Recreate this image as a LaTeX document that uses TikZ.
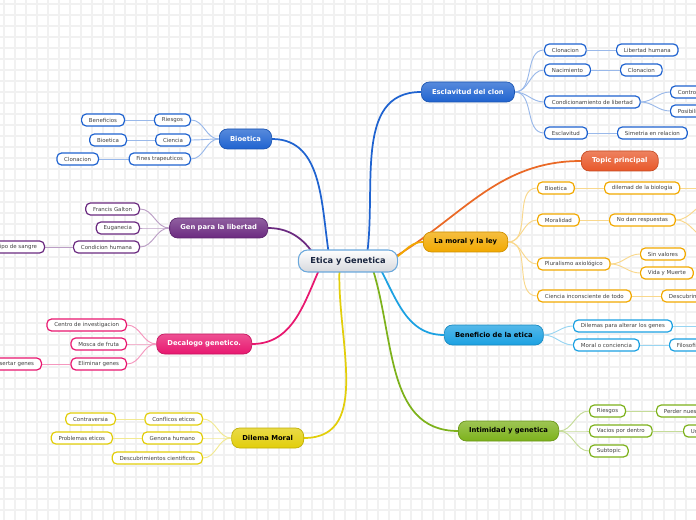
\documentclass[tikz,border=0pt]{standalone}
\usepackage{fontspec}
\setmainfont{DejaVu Sans}
\definecolor{ClonBlue}{HTML}{1F63D0}
\definecolor{TopicRed}{HTML}{E8582A}
\definecolor{LeyGold}{HTML}{F2A900}
\definecolor{EticaCyan}{HTML}{1BA1E2}
\definecolor{IntimGreen}{HTML}{7DB21B}
\definecolor{GenPurple}{HTML}{6B2A80}
\definecolor{DecaPink}{HTML}{E8176F}
\definecolor{DilemaYellow}{HTML}{E2CE0A}
\definecolor{RootEdge}{HTML}{6AA8DC}
\definecolor{RootText}{HTML}{1A2640}
\definecolor{GridGray}{HTML}{F1F1F1}
\pgfdeclarelayer{gridlayer}
\pgfdeclarelayer{linklayer}
\pgfsetlayers{gridlayer,linklayer,main}

\begin{document}
\begin{tikzpicture}[x=0.75pt,y=-0.75pt,
  rootbox/.style={draw=RootEdge,line width=0.8pt,top color=white,bottom color=RootText!18,
    rounded corners=7pt,minimum height=16.5pt,inner xsep=9pt,text=RootText,
    font=\bfseries\fontsize{6.2}{7}\selectfont},
  topicbox/.style={draw=#1!85!black,line width=0.5pt,top color=#1!75!white,bottom color=#1,
    rounded corners=6pt,minimum height=15pt,inner xsep=8pt,text=white,
    font=\bfseries\fontsize{5.1}{6}\selectfont},
  subbox/.style={draw=#1,line width=0.9pt,fill=white,rounded corners=3.5pt,
    minimum height=9pt,inner xsep=5.5pt,inner ysep=0pt,text=black!75,
    font=\fontsize{4.1}{5}\selectfont},
  limb/.style={draw=#1,line width=1.3pt},
  twig/.style={draw=#1!45!white,line width=0.7pt}]
  \useasboundingbox (0,0) rectangle (696,520);

  \begin{pgfonlayer}{gridlayer}
    \fill[white] (0,0) rectangle (696,520);
    \foreach \g in {4,15,...,700} {
      \draw[GridGray,line width=1.6pt] (\g,0) -- (\g,520);
    }
    \foreach \g in {4,15,...,520} {
      \draw[GridGray,line width=1.6pt] (0,\g) -- (696,\g);
    }
  \end{pgfonlayer}

  % central topic
  \node[rootbox] (ctr) at (348,261) {Etica y Genetica};

  % right side
  \node[topicbox=ClonBlue,anchor=west] (esc) at (421,92) {Esclavitud del clon};
  \node[subbox=ClonBlue,anchor=west] (e1) at (544,50) {Clonacion};
  \node[subbox=ClonBlue,anchor=west] (e1a) at (616,50) {Libertad humana};
  \node[subbox=ClonBlue,anchor=west] (e2) at (544,70) {Nacimiento};
  \node[subbox=ClonBlue,anchor=west] (e2a) at (620,70) {Clonacion};
  \node[subbox=ClonBlue,anchor=west] (e3) at (544,102) {Condicionamiento de libertad};
  \node[subbox=ClonBlue,anchor=west] (e3a) at (670,92) {Control};
  \node[subbox=ClonBlue,anchor=west] (e3b) at (670,111) {Posibilidad};
  \node[subbox=ClonBlue,anchor=west] (e4) at (544,133) {Esclavitud};
  \node[subbox=ClonBlue,anchor=west] (e4a) at (617,133) {Simetria en relacion};

  \node[topicbox=TopicRed,anchor=west] (tp) at (581,161) {Topic principal};

  \node[topicbox=LeyGold,text=black,anchor=west] (ley) at (423,242) {La moral y la ley};
  \node[subbox=LeyGold,anchor=west] (m1) at (537,188) {Bioetica};
  \node[subbox=LeyGold,anchor=west] (m1a) at (604,188) {dilemad de la biologia};
  \node[subbox=LeyGold,anchor=west] (m2) at (537,220) {Moralidad};
  \node[subbox=LeyGold,anchor=west] (m2a) at (609,220) {No dan respuestas};
  \node[subbox=LeyGold,anchor=west] (m3) at (537,264) {Pluralismo axiológico};
  \node[subbox=LeyGold,anchor=west] (m3a) at (640,254) {Sin valores};
  \node[subbox=LeyGold,anchor=west] (m3b) at (640,273) {Vida y Muerte};
  \node[subbox=LeyGold,anchor=west] (m4) at (537,296) {Ciencia inconsciente de todo};
  \node[subbox=LeyGold,anchor=west] (m4a) at (661,296) {Descubrimientos};
  \coordinate (m1x) at (706,188);
  \coordinate (m2x) at (712,202);
  \coordinate (m2y) at (712,240);

  \node[topicbox=EticaCyan,text=black,anchor=west] (ben) at (444,335) {Beneficio de la etica};
  \node[subbox=EticaCyan,anchor=west] (b1) at (573,326) {Dilemas para alterar los genes};
  \node[subbox=EticaCyan,anchor=west] (b2) at (573,345) {Moral o conciencia};
  \node[subbox=EticaCyan,anchor=west] (b2a) at (669,345) {Filosofia};
  \coordinate (b1x) at (706,326);

  \node[topicbox=IntimGreen,text=black,anchor=west] (int) at (458,431) {Intimidad y genetica};
  \node[subbox=IntimGreen,anchor=west] (i1) at (589,411) {Riesgos};
  \node[subbox=IntimGreen,anchor=west] (i1a) at (656,411) {Perder nuestra identidad};
  \node[subbox=IntimGreen,anchor=west] (i2) at (589,431) {Vacios por dentro};
  \node[subbox=IntimGreen,anchor=west] (i2a) at (683,431) {Unicidad};
  \node[subbox=IntimGreen,anchor=west] (i3) at (589,451) {Subtopic};

  % left side
  \node[topicbox=ClonBlue,anchor=east] (bio) at (272,139) {Bioetica};
  \node[subbox=ClonBlue,anchor=east] (l1) at (191,120) {Riesgos};
  \node[subbox=ClonBlue,anchor=east] (l1a) at (125,120) {Beneficios};
  \node[subbox=ClonBlue,anchor=east] (l2) at (191,140) {Ciencia};
  \node[subbox=ClonBlue,anchor=east] (l2a) at (127,140) {Bioetica};
  \node[subbox=ClonBlue,anchor=east] (l3) at (191,159) {Fines trapeuticos};
  \node[subbox=ClonBlue,anchor=east] (l3a) at (99,159) {Clonacion};

  \node[topicbox=GenPurple,anchor=east] (gen) at (268,228) {Gen para la libertad};
  \node[subbox=GenPurple,anchor=east] (g1) at (140,209) {Francis Galton};
  \node[subbox=GenPurple,anchor=east] (g2) at (140,228) {Euganecia};
  \node[subbox=GenPurple,anchor=east] (g3) at (140,247) {Condicion humana};
  \node[subbox=GenPurple,anchor=east] (g3a) at (45,247) {Tipo de sangre};

  \node[topicbox=DecaPink,anchor=east] (dec) at (252,344) {Decalogo genetico.};
  \node[subbox=DecaPink,anchor=east] (d1) at (127,325) {Centro de investigacion};
  \node[subbox=DecaPink,anchor=east] (d2) at (127,344) {Mosca de fruta};
  \node[subbox=DecaPink,anchor=east] (d3) at (127,364) {Eliminar genes};
  \node[subbox=DecaPink,anchor=east] (d3a) at (42,364) {Insertar genes};

  \node[topicbox=DilemaYellow,text=black,anchor=east] (dil) at (304,438) {Dilema Moral};
  \node[subbox=DilemaYellow,anchor=east] (y1) at (203,419) {Conflicos eticos};
  \node[subbox=DilemaYellow,anchor=east] (y1a) at (116,419) {Contraversia};
  \node[subbox=DilemaYellow,anchor=east] (y2) at (203,438) {Genona humano};
  \node[subbox=DilemaYellow,anchor=east] (y2a) at (113,438) {Problemas eticos};
  \node[subbox=DilemaYellow,anchor=east] (y3) at (203,458) {Descubrimientos cientificos};

  \begin{pgfonlayer}{linklayer}
    % main branches
    \draw[limb=ClonBlue] ([shift={(18,0)}]ctr.center) to[out=80,in=180] (esc.west);
    \draw[limb=TopicRed!90!yellow] ([shift={(40,0)}]ctr.center) to[out=30,in=180] (tp.west);
    \draw[limb=LeyGold] ([shift={(40,0)}]ctr.center) to[out=15,in=180] (ley.west);
    \draw[limb=EticaCyan] ([shift={(28,0)}]ctr.center) to[out=-60,in=180] (ben.west);
    \draw[limb=IntimGreen] ([shift={(22,0)}]ctr.center) to[out=-70,in=180] (int.west);
    \draw[limb=ClonBlue] ([shift={(-18,0)}]ctr.center) to[out=100,in=0] (bio.east);
    \draw[limb=GenPurple] ([shift={(-30,0)}]ctr.center) to[out=120,in=0] (gen.east);
    \draw[limb=DecaPink] ([shift={(-25,0)}]ctr.center) to[out=-115,in=0] (dec.east);
    \draw[limb=DilemaYellow] ([shift={(-8,0)}]ctr.center) to[out=-95,in=0] (dil.east);

    % sub branches
    \foreach \s in {e1,e2,e3,e4}
      \draw[twig=ClonBlue] (esc.east) to[out=0,in=180] (\s.west);
    \foreach \s in {m1,m2,m3,m4}
      \draw[twig=LeyGold] (ley.east) to[out=0,in=180] (\s.west);
    \foreach \s in {b1,b2}
      \draw[twig=EticaCyan] (ben.east) to[out=0,in=180] (\s.west);
    \foreach \s in {i1,i2,i3}
      \draw[twig=IntimGreen] (int.east) to[out=0,in=180] (\s.west);
    \foreach \s in {l1,l2,l3}
      \draw[twig=ClonBlue] (bio.west) to[out=180,in=0] (\s.east);
    \foreach \s in {g1,g2,g3}
      \draw[twig=GenPurple] (gen.west) to[out=180,in=0] (\s.east);
    \foreach \s in {d1,d2,d3}
      \draw[twig=DecaPink] (dec.west) to[out=180,in=0] (\s.east);
    \foreach \s in {y1,y2,y3}
      \draw[twig=DilemaYellow] (dil.west) to[out=180,in=0] (\s.east);

    % leaves
    \draw[twig=ClonBlue] (e1.east) -- (e1a.west);
    \draw[twig=ClonBlue] (e2.east) -- (e2a.west);
    \draw[twig=ClonBlue] (e3.east) to[out=0,in=180] (e3a.west);
    \draw[twig=ClonBlue] (e3.east) to[out=0,in=180] (e3b.west);
    \draw[twig=ClonBlue] (e4.east) -- (e4a.west);
    \draw[twig=LeyGold] (m1.east) -- (m1a.west);
    \draw[twig=LeyGold] (m1a.east) -- (m1x);
    \draw[twig=LeyGold] (m2.east) -- (m2a.west);
    \draw[twig=LeyGold] (m2a.east) to[out=0,in=180] (m2x);
    \draw[twig=LeyGold] (m2a.east) to[out=0,in=180] (m2y);
    \draw[twig=LeyGold] (m3.east) to[out=0,in=180] (m3a.west);
    \draw[twig=LeyGold] (m3.east) to[out=0,in=180] (m3b.west);
    \draw[twig=LeyGold] (m4.east) -- (m4a.west);
    \draw[twig=EticaCyan] (b1.east) -- (b1x);
    \draw[twig=EticaCyan] (b2.east) -- (b2a.west);
    \draw[twig=IntimGreen] (i1.east) -- (i1a.west);
    \draw[twig=IntimGreen] (i2.east) -- (i2a.west);
    \draw[twig=ClonBlue] (l1.west) -- (l1a.east);
    \draw[twig=ClonBlue] (l2.west) -- (l2a.east);
    \draw[twig=ClonBlue] (l3.west) -- (l3a.east);
    \draw[twig=GenPurple] (g3.west) -- (g3a.east);
    \draw[twig=DecaPink] (d3.west) -- (d3a.east);
    \draw[twig=DilemaYellow] (y1.west) -- (y1a.east);
    \draw[twig=DilemaYellow] (y2.west) -- (y2a.east);
  \end{pgfonlayer}
\end{tikzpicture}
\end{document}
